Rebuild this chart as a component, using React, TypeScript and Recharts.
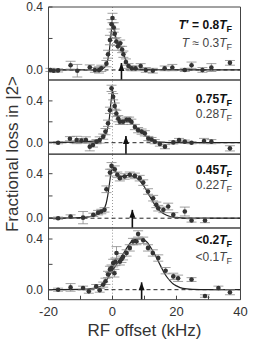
import React from 'react';
import { ComposedChart, Line, Scatter, XAxis, YAxis, ErrorBar, ReferenceLine } from 'recharts';

const FONT = '"Liberation Sans", Arial, sans-serif';
const INK = '#333';

const xTicks = [-20, -10, 0, 10, 20, 30, 40];
const xLabelled = [-20, 0, 20, 40];
const yTicks = [0, 0.2, 0.4];

// panel 1 : T' = 0.8 TF
const p1X = [-19.4, -18.4, -17, -13.1, -11, -7.1, -5.5, -4.2, -3.5, -1.9, -1.4, -0.8, -0.3, 0, 0.4, 0.7, 1.2, 1.7, 2.4, 3, 3.4, 4.2, 5, 6, 7.2, 8.8, 10.4, 12.6, 16.3, 18.7, 22.6, 24.7, 28.1, 30.9, 36.7];
const p1Y = [0, -0.005, -0.003, 0.03, -0.005, 0.017, 0, 0, 0.01, 0.04, 0.1, 0.19, 0.29, 0.33, 0.27, 0.23, 0.18, 0.15, 0.17, 0.13, 0.1, 0.05, 0.025, 0.01, 0.01, 0.025, 0, -0.005, 0.01, 0.015, 0, 0.03, 0, 0.015, 0.045];
const p1Err = [0.01, 0.01, 0.01, 0.025, 0.04, 0.015, 0.015, 0.02, 0.02, 0.02, 0.025, 0.03, 0.03, 0.03, 0.03, 0.03, 0.025, 0.025, 0.02, 0.02, 0.02, 0.02, 0.015, 0.015, 0.015, 0.015, 0.015, 0.015, 0.015, 0.02, 0.01, 0.02, 0.015, 0.025, 0.015];
const p1FitX = [-20, -10, -5, -3, -2, -1.5, -1, -0.5, 0, 0.5, 1, 1.5, 2, 2.5, 3, 3.5, 4, 5, 6, 8, 20, 40];
const p1FitY = [0, 0, 0.002, 0.01, 0.03, 0.06, 0.12, 0.22, 0.3, 0.27, 0.21, 0.17, 0.155, 0.15, 0.13, 0.1, 0.07, 0.025, 0.008, 0.001, 0, 0];

// panel 2 : 0.75 TF
const p2X = [-17, -13.3, -11.2, -9.7, -8.3, -7.1, -6.1, -5, -4, -2.9, -2.2, -1.4, -0.8, -0.3, 0.2, 0.7, 1.2, 1.8, 2.3, 3.3, 4.4, 5.2, 5.9, 7, 8, 9.1, 10.1, 11.2, 12.2, 13.2, 14.8, 16.4, 19, 20.8, 22.6, 24.7, 28.6, 30.9, 36.7];
const p2Y = [0, 0.038, 0.026, 0.02, 0.026, -0.038, -0.022, 0.01, 0.026, 0.058, 0.106, 0.186, 0.31, 0.52, 0.44, 0.35, 0.28, 0.23, 0.2, 0.2, 0.22, 0.22, 0.2, 0.15, 0.12, 0.106, 0.09, 0.04, 0.03, 0.01, -0.013, -0.038, 0.003, 0.026, 0.01, 0, 0.016, 0.01, -0.054];
const p2Err = [0.01, 0.02, 0.035, 0.02, 0.03, 0.04, 0.02, 0.02, 0.03, 0.025, 0.03, 0.03, 0.03, 0.03, 0.03, 0.03, 0.03, 0.03, 0.025, 0.025, 0.025, 0.025, 0.025, 0.025, 0.025, 0.025, 0.025, 0.02, 0.02, 0.02, 0.02, 0.02, 0.015, 0.015, 0.015, 0.01, 0.025, 0.02, 0.025];
const p2FitX = [-20, -10, -5, -3, -2, -1.5, -1, -0.5, 0, 0.5, 1, 1.5, 2, 3, 4, 5, 6, 7, 8, 9, 10, 11, 12, 13, 15, 20, 40];
const p2FitY = [0.003, 0.008, 0.02, 0.045, 0.09, 0.14, 0.23, 0.38, 0.5, 0.42, 0.33, 0.27, 0.235, 0.21, 0.215, 0.21, 0.19, 0.16, 0.13, 0.1, 0.075, 0.05, 0.03, 0.015, 0.005, 0, 0];

// panel 3 : 0.45 TF
const p3X = [-17, -13.1, -9.2, -6, -4.5, -3.5, -2.5, -1.9, -0.8, -0.3, 0.7, 1.5, 2.3, 3.8, 5.4, 7, 8.5, 9.6, 11.1, 12.7, 13.7, 14.3, 15.9, 17.4, 19, 22.6, 24.7, 28.9];
const p3Y = [0, 0.015, 0.005, 0.03, 0.05, 0.06, 0.075, 0.26, 0.41, 0.47, 0.44, 0.39, 0.36, 0.375, 0.39, 0.38, 0.36, 0.32, 0.24, 0.18, 0.12, 0.09, 0.075, 0.105, 0.03, 0.06, -0.02, -0.02];
const p3Err = [0.01, 0.015, 0.055, 0.015, 0.02, 0.02, 0.02, 0.03, 0.03, 0.03, 0.03, 0.025, 0.025, 0.025, 0.025, 0.025, 0.025, 0.025, 0.025, 0.025, 0.025, 0.025, 0.025, 0.03, 0.02, 0.04, 0.015, 0.02];
const p3FitX = [-20, -10, -5, -3, -2, -1.5, -1, -0.5, 0, 0.5, 1, 2, 3, 4, 5, 6, 7, 8, 9, 10, 11, 12, 13, 14, 15, 16, 18, 20, 25, 40];
const p3FitY = [0, 0.005, 0.03, 0.07, 0.13, 0.2, 0.3, 0.4, 0.46, 0.45, 0.42, 0.385, 0.375, 0.38, 0.385, 0.38, 0.37, 0.35, 0.32, 0.28, 0.23, 0.18, 0.13, 0.09, 0.06, 0.04, 0.015, 0.005, 0, 0];

// panel 4 : <0.2 TF
const p4X = [-17, -13.1, -9.2, -7.4, -5.1, -4, -2.9, -2.2, -1.4, -0.8, -0.3, 0.2, 0.6, 0.9, 1.25, 2.3, 2.8, 3.3, 4.4, 5.4, 6.4, 7.5, 8, 9.6, 11.1, 12.6, 14.3, 16.6, 19, 20.5, 24.7, 28.9, 33.1, 36.7];
const p4Y = [0, 0.018, 0.013, -0.013, 0.026, -0.005, 0.04, 0.066, 0.12, 0.16, 0.17, 0.21, 0.13, 0.22, 0.29, 0.22, 0.24, 0.26, 0.29, 0.33, 0.38, 0.38, 0.44, 0.39, 0.33, 0.29, 0.25, 0.15, 0.105, 0.09, 0.08, -0.05, 0.013, -0.02];
const p4Err = [0.012, 0.03, 0.015, 0.015, 0.015, 0.015, 0.02, 0.025, 0.025, 0.025, 0.025, 0.03, 0.03, 0.03, 0.05, 0.025, 0.025, 0.025, 0.025, 0.025, 0.025, 0.025, 0.025, 0.025, 0.025, 0.025, 0.025, 0.025, 0.025, 0.025, 0.015, 0.01, 0.015, 0.02];
const p4FitX = [-20, -8, -5, -3, -2, -1, 0, 1, 2, 3, 4, 5, 6, 7, 8, 9, 10, 11, 12, 13, 14, 15, 16, 17, 18, 19, 20, 22, 25, 30, 40];
const p4FitY = [0, 0.005, 0.015, 0.04, 0.07, 0.11, 0.15, 0.19, 0.23, 0.27, 0.31, 0.35, 0.38, 0.395, 0.4, 0.4, 0.39, 0.37, 0.33, 0.29, 0.24, 0.19, 0.14, 0.1, 0.07, 0.045, 0.03, 0.01, 0.003, 0, 0];

// arrows and labels per panel
const arrowX = [2.8, 4.2, 6.2, 9.1];
const arrowTip = [0.044, 0.064, 0.075, 0.058];
const tPrime = ['0.8', '0.75', '0.45', '<0.2'];
const tReal = ['0.3', '0.28', '0.22', '<0.1'];

const zip = (xs: number[], ys: number[], es: number[]) => xs.map((x, i) => ({ x, y: ys[i], err: es[i] }));
const zipFit = (xs: number[], ys: number[]) => xs.map((x, i) => ({ x, fit: ys[i] }));

const panels = [
  { pts: zip(p1X, p1Y, p1Err), fit: zipFit(p1FitX, p1FitY), top: 7, bottom: 80, domain: [-0.064, 0.4] },
  { pts: zip(p2X, p2Y, p2Err), fit: zipFit(p2FitX, p2FitY), top: 80, bottom: 154.3, domain: [-0.111, 0.6] },
  { pts: zip(p3X, p3Y, p3Err), fit: zipFit(p3FitX, p3FitY), top: 154.3, bottom: 228.3, domain: [-0.088, 0.577] },
  { pts: zip(p4X, p4Y, p4Err), fit: zipFit(p4FitX, p4FitY), top: 228.3, bottom: 300, domain: [-0.079, 0.487] },
];

const Dot = (p: any) => <circle cx={p.cx} cy={p.cy} r={2.3} fill={INK} />;
const Head = (p: any) => (
  <polygon points={`${p.cx},${p.cy} ${p.cx - 3},${p.cy + 8} ${p.cx + 3},${p.cy + 8}`} fill="#111" />
);

const PAD = 7; // room above each plot so the top tick label is not clipped

function Panel({ idx }: { idx: number }) {
  const p = panels[idx];
  const last = idx === panels.length - 1;
  const bottomH = last ? 40 : 1;
  const h = p.bottom - p.top + PAD + 1 + bottomH;
  const tickStyle = { fontSize: 12, fill: INK, fontFamily: FONT };
  return (
    <div style={{ position: 'absolute', left: 0, top: p.top - 1 - PAD }}>
      <ComposedChart width={256} height={h} data={p.fit} margin={{ top: PAD, right: 14.5, bottom: 0, left: 8.5 }}>
        <XAxis dataKey="x" type="number" domain={[-20, 40]} ticks={xTicks} allowDataOverflow
          height={bottomH} stroke="#444" tickSize={-4} tickMargin={11} interval={0}
          tickFormatter={(v: number) => (xLabelled.includes(v) ? String(v) : '')}
          tick={last ? { ...tickStyle, fontSize: 13 } : false} />
        <XAxis xAxisId="t" orientation="top" dataKey="x" type="number" domain={[-20, 40]} ticks={xTicks}
          height={1} stroke="#444" tickSize={-4} tick={false} />
        <YAxis type="number" domain={p.domain} ticks={yTicks} allowDataOverflow width={40}
          stroke="#444" tickSize={-4} tickMargin={9.5} tick={tickStyle} interval={0}
          tickFormatter={(v: number) => (v === 0.2 ? '' : v.toFixed(1))} />
        <YAxis yAxisId="r" orientation="right" type="number" domain={p.domain} ticks={yTicks} allowDataOverflow
          width={1} stroke="#444" tickSize={-4} tick={false} />
        <ReferenceLine x={0} stroke="#999" strokeDasharray="1 2" />
        <ReferenceLine y={0} stroke="#222" strokeDasharray="4 3" />
        <ReferenceLine segment={[{ x: arrowX[idx], y: p.domain[0] }, { x: arrowX[idx], y: arrowTip[idx] }]}
          stroke="#111" strokeWidth={1.6} />
        <Line dataKey="fit" type="monotone" stroke="#222" strokeWidth={1.2} dot={false} isAnimationActive={false} />
        <Scatter data={p.pts} dataKey="y" shape={Dot} isAnimationActive={false}>
          <ErrorBar dataKey="err" direction="y" width={5} stroke="#888" strokeWidth={0.8} />
        </Scatter>
        <Scatter data={[{ x: arrowX[idx], y: arrowTip[idx] }]} dataKey="y" shape={Head} isAnimationActive={false} />
      </ComposedChart>
    </div>
  );
}

const labelBase = [[29, 47], [102.5, 117.5], [174, 189], [244, 261]];

export default function App() {
  return (
    <div style={{ position: 'fixed', left: 0, top: 0, width: 256, height: 340, background: '#fff', fontFamily: FONT }}>
      {panels.map((_, i) => <Panel key={i} idx={i} />)}
      <svg width={256} height={340} style={{ position: 'absolute', left: 0, top: 0, pointerEvents: 'none' }}
        fontFamily={FONT} fill={INK}>
        <text x={12} y={154} fontSize={17} textAnchor="middle" dominantBaseline="central"
          transform="rotate(-90 12 154)">Fractional loss in |2&gt;</text>
        <text x={144.5} y={336} fontSize={17} textAnchor="middle">RF offset (kHz)</text>
        {labelBase.map(([b1, b2], i) => (
          <g key={i}>
            <text x={232} y={b1} fontSize={12} fontWeight="bold" textAnchor="end" fill="#111">
              {i === 0 && <tspan><tspan fontStyle="italic">T</tspan>′ = </tspan>}
              {tPrime[i]}<tspan fontStyle="italic">T</tspan><tspan fontSize={9} dy={3}>F</tspan>
            </text>
            <text x={232} y={b2} fontSize={12} textAnchor="end" fill="#444">
              {i === 0 && <tspan><tspan fontStyle="italic">T</tspan> ≈ </tspan>}
              {tReal[i]}<tspan fontStyle="italic">T</tspan><tspan fontSize={9} dy={3}>F</tspan>
            </text>
          </g>
        ))}
      </svg>
    </div>
  );
}
